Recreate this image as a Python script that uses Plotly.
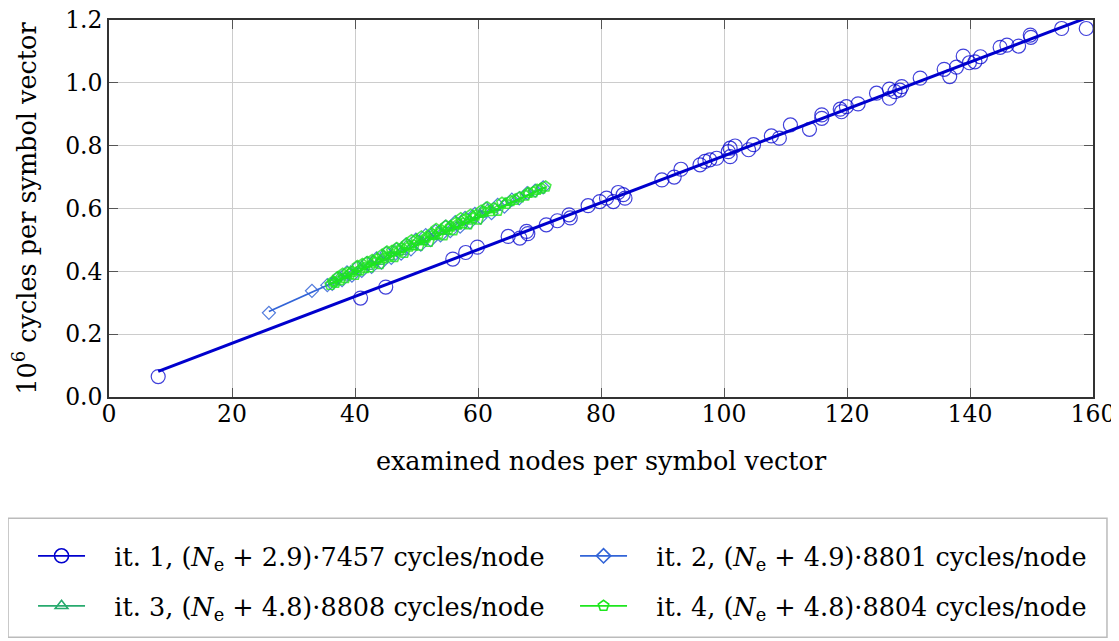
import plotly.graph_objects as go

# ---------------- data ----------------
x_tick_vals = [0, 20, 40, 60, 80, 100, 120, 140, 160]
y_tick_vals = [0.0, 0.2, 0.4, 0.6, 0.8, 1.0, 1.2]

# iteration 1 measurements (circles)
it1_x = [8.0, 40.9, 45.0, 55.9, 58.0, 59.9, 64.9, 66.8, 67.9, 68.1, 71.1, 72.9, 74.8, 75.0,
         77.9, 79.8, 80.9, 82.0, 82.8, 83.6, 83.9, 89.9, 91.9, 93.0, 96.1, 96.9, 97.7, 98.8,
         100.7, 101.0, 101.8, 101.0, 104.0, 104.8, 107.7, 109.0, 110.8, 113.9, 115.9, 115.9,
         118.9, 119.1, 119.9, 121.8, 124.8, 126.9, 126.9, 127.8, 128.6, 128.9, 131.9, 135.8,
         136.7, 137.8, 138.9, 139.9, 140.8, 141.7, 144.9, 146.0, 147.9, 149.8, 149.9, 154.9, 158.9]
it1_y = [0.065, 0.315, 0.350, 0.439, 0.460, 0.477, 0.511, 0.506, 0.527, 0.520, 0.548, 0.561, 0.580, 0.570,
         0.609, 0.622, 0.633, 0.622, 0.651, 0.644, 0.633, 0.691, 0.700, 0.725, 0.739, 0.750, 0.755, 0.760,
         0.781, 0.792, 0.799, 0.765, 0.787, 0.803, 0.831, 0.824, 0.866, 0.852, 0.898, 0.887,
         0.916, 0.908, 0.924, 0.933, 0.967, 0.980, 0.951, 0.972, 0.977, 0.988, 1.015, 1.043,
         1.020, 1.050, 1.085, 1.064, 1.067, 1.083, 1.113, 1.120, 1.117, 1.152, 1.145, 1.173, 1.173]

# iteration 2 measurements (diamonds)
it2_x = [26.0, 33.0, 35.5, 36.3, 37.1, 37.9, 38.7, 39.5, 40.3, 41.1, 41.9, 42.7, 43.5, 44.3, 45.1,
         45.9, 46.7, 47.5, 48.3, 49.1, 49.9, 50.7, 51.5, 52.3, 53.1, 53.9, 54.7, 55.5, 56.3, 57.1,
         57.9, 58.7, 59.5, 60.4, 61.3, 62.2, 63.2, 64.3, 65.5, 66.7, 68.0, 69.3, 70.6]
it2_y = [0.268, 0.338, 0.356, 0.360, 0.378, 0.372, 0.397, 0.386, 0.412, 0.401, 0.426, 0.414, 0.441,
         0.428, 0.458, 0.443, 0.470, 0.456, 0.486, 0.470, 0.501, 0.485, 0.515, 0.499, 0.528, 0.514,
         0.542, 0.528, 0.557, 0.542, 0.570, 0.556, 0.583, 0.571, 0.600, 0.585, 0.612, 0.606, 0.628,
         0.632, 0.649, 0.657, 0.667]

# iteration 3 measurements (triangles)
it3_x = [36.6, 37.5, 38.4, 39.3, 40.2, 41.1, 42.0, 42.9, 43.8, 44.7, 45.6, 46.5, 47.4, 48.3, 49.2,
         50.1, 51.0, 51.9, 52.8, 53.7, 54.6, 55.5, 56.4, 57.3, 58.2, 59.2, 60.3, 61.5, 62.8, 64.4,
         66.2, 68.1, 70.1]
it3_y = [0.368, 0.383, 0.380, 0.402, 0.398, 0.418, 0.414, 0.434, 0.430, 0.450, 0.446, 0.466, 0.462,
         0.482, 0.478, 0.498, 0.494, 0.514, 0.510, 0.530, 0.526, 0.546, 0.542, 0.562, 0.558, 0.578,
         0.580, 0.597, 0.602, 0.618, 0.632, 0.650, 0.664]

# iteration 4 measurements (pentagons)
it4_x = [36.0, 36.4, 36.8, 37.2, 37.6, 38.0, 38.4, 38.8, 39.2, 39.6, 40.0, 40.4, 40.8, 41.2, 41.6,
         42.0, 42.4, 42.8, 43.2, 43.6, 44.0, 44.4, 44.8, 45.2, 45.6, 46.0, 46.4, 46.8, 47.2, 47.6,
         48.0, 48.4, 48.8, 49.2, 49.6, 50.0, 50.4, 50.8, 51.2, 51.6, 52.0, 52.4, 52.8, 53.2, 53.6,
         54.0, 54.4, 54.8, 55.2, 55.6, 56.0, 56.4, 56.8, 57.2, 57.6, 58.0, 58.4, 58.8, 59.2, 59.6,
         60.0, 60.5, 61.0, 61.5, 62.0, 62.6, 63.2, 63.9, 64.6, 65.3, 66.0, 66.8, 67.7, 68.2, 69.0,
         69.6, 70.3, 71.0]
it4_y = [0.357, 0.368, 0.364, 0.381, 0.372, 0.392, 0.379, 0.396, 0.392, 0.399, 0.389, 0.417, 0.403,
         0.423, 0.411, 0.430, 0.413, 0.436, 0.428, 0.439, 0.423, 0.453, 0.442, 0.463, 0.447, 0.465,
         0.446, 0.474, 0.464, 0.474, 0.459, 0.488, 0.479, 0.499, 0.483, 0.500, 0.482, 0.511, 0.499,
         0.508, 0.494, 0.521, 0.516, 0.535, 0.519, 0.532, 0.515, 0.545, 0.534, 0.543, 0.531, 0.555,
         0.551, 0.569, 0.553, 0.567, 0.550, 0.580, 0.569, 0.578, 0.565, 0.593, 0.590, 0.604, 0.592,
         0.601, 0.593, 0.618, 0.615, 0.624, 0.628, 0.636, 0.641, 0.650, 0.652, 0.660, 0.664, 0.670]

# fitted models, endpoints (x in nodes, y in 10^6 cycles)
fit1_x = [8.0, 159.0]
fit1_y = [0.0813, 1.2073]
fit2_x = [26.0, 71.0]
fit2_y = [0.2720, 0.6680]
fit3_x = [36.0, 71.0]
fit3_y = [0.3594, 0.6676]
fit4_x = [36.0, 71.0]
fit4_y = [0.3592, 0.6673]

legend_names = [
    "it. 1, (<i>N</i><sub>e</sub> + 2.9)·7457 cycles/node",
    "it. 2, (<i>N</i><sub>e</sub> + 4.9)·8801 cycles/node",
    "it. 3, (<i>N</i><sub>e</sub> + 4.8)·8808 cycles/node",
    "it. 4, (<i>N</i><sub>e</sub> + 4.8)·8804 cycles/node",
]

# ---------------- styles ----------------
C1 = "rgb(0,0,205)"
C2 = "rgb(50,100,215)"
C3 = "rgb(40,170,110)"
C4 = "rgb(30,230,30)"
FONT = "DejaVu Serif"
PAD = "&nbsp;&nbsp;&nbsp;"

fig = go.Figure()

series = [
    (it1_x, it1_y, fit1_x, fit1_y, C1, "circle-open", 14, 1.2, 3.0, 0.75),
    (it2_x, it2_y, fit2_x, fit2_y, C2, "diamond-open", 10, 1.2, 1.8, 0.85),
    (it3_x, it3_y, fit3_x, fit3_y, C3, "triangle-up-open", 10, 1.2, 1.8, 0.85),
    (it4_x, it4_y, fit4_x, fit4_y, C4, "pentagon-open", 11, 1.6, 1.8, 0.8),
]

for i, (sx, sy, fx, fy, col, sym, msz, mlw, lw, op) in enumerate(series):
    fig.add_trace(go.Scatter(x=sx, y=sy, mode="markers", showlegend=False,
                             marker=dict(symbol=sym, size=msz, color=col, opacity=op,
                                         line=dict(width=mlw, color=col))))
    fig.add_trace(go.Scatter(x=fx, y=fy, mode="lines", showlegend=False,
                             line=dict(color=col, width=lw)))

# legend-only entries (two legends, one per row)
for i, (sx, sy, fx, fy, col, sym, msz, mlw, lw, op) in enumerate(series):
    fig.add_trace(go.Scatter(x=[None], y=[None], mode="lines+markers", name=PAD + legend_names[i],
                             legend="legend" if i < 2 else "legend2",
                             marker=dict(symbol=sym, size=msz if i == 0 else 11, color=col,
                                         line=dict(width=1.6, color=col)),
                             line=dict(color=col, width=1.8)))

axis_common = dict(
    showline=True, linecolor="#333333", linewidth=1.5, mirror="ticks",
    ticks="inside", ticklen=9, tickwidth=1.2, tickcolor="#555555",
    showgrid=True, gridcolor="#cccccc", gridwidth=1,
    zeroline=False, automargin=False, ticklabeloverflow="allow",
    tickfont=dict(family=FONT, size=23.5, color="black"),
    title_font=dict(family=FONT, size=25.5, color="black"),
)

fig.update_xaxes(range=[0, 160], tickvals=x_tick_vals, ticklabelstandoff=-5,
                 title_text="examined nodes per symbol vector", title_standoff=25,
                 **axis_common)
fig.update_yaxes(range=[0, 1.2], tickvals=y_tick_vals, tickformat=".1f",
                 title_text="10<sup>6</sup> cycles per symbol vector", title_standoff=30,
                 **axis_common)

legend_common = dict(
    orientation="h", xanchor="left", yanchor="middle",
    font=dict(family=FONT, size=25.5, color="black"),
    bgcolor="rgba(0,0,0,0)", borderwidth=0,
    entrywidth=480, entrywidthmode="pixels",
    itemwidth=47,
)

# the page adds an 8px body margin, so the figure is 8px smaller on each side
fig.update_layout(
    width=1111, height=633,
    margin=dict(l=101, r=26, t=12, b=243.5),
    plot_bgcolor="white", paper_bgcolor="white",
    legend=dict(x=-0.0772, y=-0.4224, **legend_common),
    legend2=dict(x=-0.0772, y=-0.555, **legend_common),
    shapes=[dict(type="rect", xref="paper", yref="paper",
                 x0=-0.1026, x1=1.0142, y0=-0.637, y1=-0.3219,
                 line=dict(color="#bbbbbb", width=1.5), fillcolor="rgba(0,0,0,0)")],
)

fig.write_html("out.html")
